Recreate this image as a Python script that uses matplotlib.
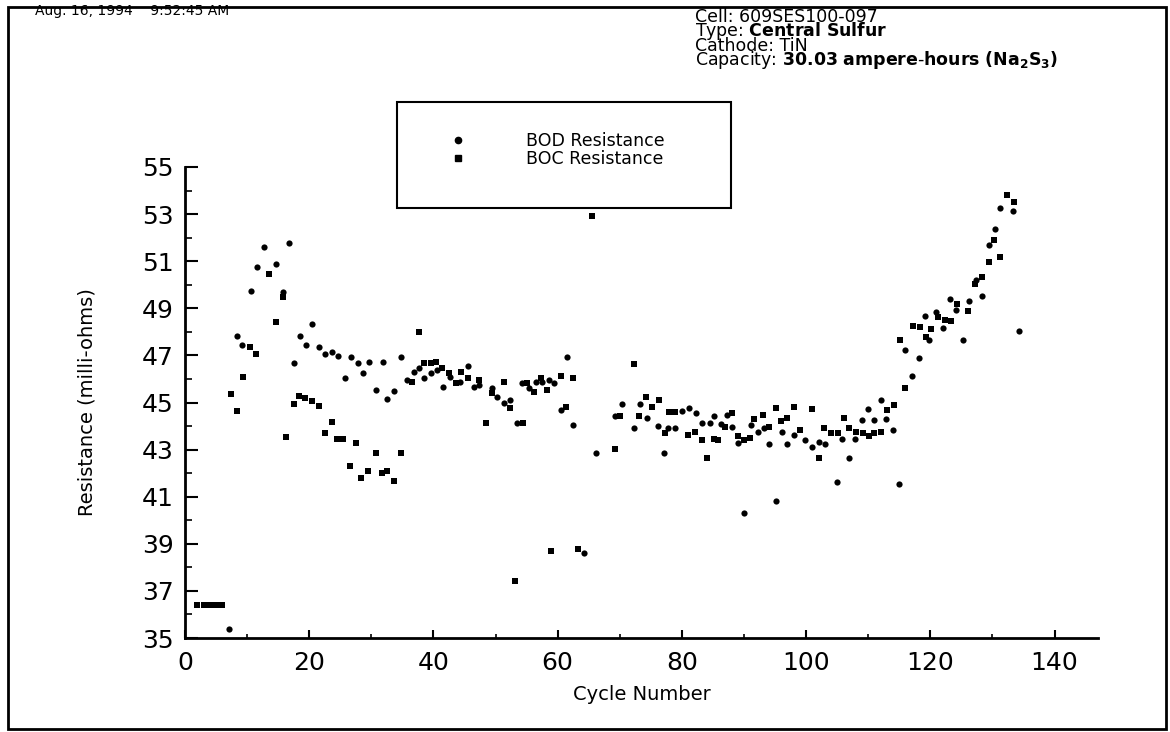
import matplotlib
matplotlib.use('Agg')
import matplotlib.pyplot as plt
from matplotlib.patches import Rectangle
from matplotlib.lines import Line2D
from matplotlib.ticker import MultipleLocator

# BOD resistance (milli-ohms) by cycle
bod_cycle = [7.1, 8.4, 9.2, 10.6, 11.6, 12.7, 14.7, 15.7, 16.7, 17.6, 18.5, 19.5,
             20.5, 21.6, 22.6, 23.7, 24.7, 25.7, 26.8, 27.8, 28.7, 29.7, 30.7,
             31.8, 32.6, 33.7, 34.8,
             35.8, 36.9, 37.7, 38.5, 39.6, 40.6, 41.5, 42.6, 44.2, 45.5, 46.5,
             47.4, 49.5, 50.3, 51.4, 52.4, 53.5, 54.3, 55.4, 56.5, 57.5, 58.6,
             59.4, 60.5, 61.5, 62.4, 64.3,
             66.1, 69.3, 70.3, 72.3, 73.3, 74.4, 76.2, 77.1, 77.8, 78.9, 80.1,
             81.2, 82.2, 83.3, 84.5, 85.2, 86.3, 87.3, 88.1, 89.1, 90.0, 91.1,
             92.2, 93.2, 94.0, 95.1, 96.2, 97.0, 98.1,
             99.9, 101.0, 102.1, 103.1, 104.9, 105.8, 106.9, 107.9, 109.0,
             109.9, 111.0, 112.0, 112.9, 114.0, 114.9, 116.0, 117.0, 118.1,
             119.2, 119.8, 120.9, 122.0, 123.2, 124.1, 125.2, 126.3, 127.3,
             128.3, 129.4, 130.4, 131.3, 133.3, 134.3]
bod_res = [35.4, 47.82, 47.44, 49.75, 50.77, 51.59, 50.87, 49.7, 51.76, 46.66,
           47.82, 47.44, 48.33, 47.34, 47.06, 47.16, 46.97, 46.05, 46.95, 46.66,
           46.27, 46.74, 45.53, 46.73, 45.15, 45.49, 46.95,
           45.96, 46.31, 46.45, 46.03, 46.24, 46.38, 45.67, 46.1, 45.88, 46.55,
           45.67, 45.75, 45.6, 45.25, 44.97, 45.1, 44.14, 45.84, 45.6, 45.88,
           45.88, 45.96, 45.84, 44.68, 46.92, 44.04, 38.6,
           42.84, 44.43, 44.92, 43.93, 44.92, 44.33, 44.02, 42.84, 43.9, 43.9,
           44.64, 44.75, 44.54, 44.14, 44.14, 44.43, 44.08, 44.47, 43.94, 43.27,
           40.3, 44.04, 43.76, 43.9, 43.23, 40.83, 43.76, 43.23, 43.62,
           43.41, 43.1, 43.34, 43.22, 41.64, 43.44, 42.63, 43.44, 44.26, 44.71,
           44.26, 45.1, 44.29, 43.83, 41.54, 47.23, 46.13, 46.88, 48.67, 47.65,
           48.85, 48.15, 49.38, 48.93, 47.65, 49.32, 50.2, 49.52, 51.69, 52.35,
           53.24, 53.13, 48.04]

# BOC resistance (milli-ohms) by cycle
boc_cycle = [2, 3, 4, 5, 6, 7.4, 8.4, 9.4, 10.4, 11.5, 13.6, 14.6, 15.8, 16.3,
             17.6, 18.4, 19.4, 20.5, 21.6, 22.5, 23.6, 24.5, 25.5, 26.5, 27.5,
             28.4, 29.5, 30.7, 31.7, 32.6, 33.7, 34.7,
             36.6, 37.7, 38.5, 39.6, 40.4, 41.4, 42.5, 43.7, 44.4, 45.5, 47.3,
             48.4, 49.5, 51.4, 52.4, 53.1, 54.4, 55.1, 56.2, 57.3, 58.3, 59.0,
             60.5, 61.3, 62.4, 63.2, 65.5,
             69.2, 70.1, 72.3, 73.1, 74.2, 75.2, 76.3, 77.3, 77.9, 78.9, 81.0,
             82.1, 83.2, 84.1, 85.1, 85.8, 87.0, 88.1, 89.1, 90.0, 90.9, 91.6,
             93.0, 94.0, 95.1, 95.9, 96.9, 98.1,
             99.0, 100.9, 102.0, 102.9, 104.0, 105.1, 106.1, 106.9, 108.0,
             109.1, 110.1, 111.0, 112.0, 113.1, 114.2, 115.1, 116.0, 117.2,
             118.3, 119.3, 120.1, 121.2, 122.3, 123.3, 124.3, 126.0, 127.2,
             128.3, 129.4, 130.3, 131.3, 132.3, 133.5]
boc_res = [36.4, 36.4, 36.4, 36.4, 36.4, 45.36, 44.65, 46.07, 47.37, 47.06,
           50.45, 48.4, 49.5, 43.55, 44.94, 45.28, 45.18, 45.08, 44.85, 43.69,
           44.17, 43.45, 43.45, 42.3, 43.27, 41.78, 42.1, 42.87, 41.99, 42.09,
           41.65, 42.87,
           45.88, 48.0, 46.66, 46.66, 46.73, 46.45, 46.24, 45.84, 46.31, 46.03,
           45.96, 44.14, 45.42, 45.88, 44.76, 37.43, 44.14, 45.84, 45.46, 46.03,
           45.53, 38.69, 46.13, 44.82, 46.03, 38.77, 52.9,
           43.03, 44.43, 46.62, 44.43, 45.25, 44.82, 45.1, 43.72, 44.61, 44.61,
           43.62, 43.76, 43.41, 42.63, 43.44, 43.41, 43.96, 44.57, 43.58, 43.41,
           43.48, 44.28, 44.47, 43.97, 44.75, 44.22, 44.33, 44.82,
           43.83, 44.72, 42.63, 43.9, 43.69, 43.69, 44.33, 43.9, 43.76, 43.69,
           43.58, 43.69, 43.76, 44.68, 44.9, 47.65, 45.6, 48.25, 48.19, 47.77,
           48.12, 48.65, 48.5, 48.44, 49.17, 48.87, 50.02, 50.34, 50.98, 51.9,
           51.16, 53.81, 53.5]

yticks = list(range(35, 56, 2))
xticks = list(range(0, 141, 20))

W, H = 1170, 732
fig = plt.figure(figsize=(W / 100, H / 100), dpi=100)
ax = fig.add_axes([185 / W, 1 - 638 / H, (1098 - 185) / W, (638 - 167) / H])

ax.scatter(bod_cycle, bod_res, s=20, marker='o', color='black', linewidths=0)
ax.scatter(boc_cycle, boc_res, s=18, marker='s', color='black', linewidths=0)

ax.set_xlim(0, 147)
ax.set_ylim(35, 55)
ax.set_xticks(xticks)
ax.set_yticks(yticks)
ax.xaxis.set_minor_locator(MultipleLocator(10))
ax.yaxis.set_minor_locator(MultipleLocator(1))
for s in ['top', 'right']:
    ax.spines[s].set_visible(False)
for s in ['left', 'bottom']:
    ax.spines[s].set_linewidth(2.0)
ax.tick_params(axis='y', which='major', direction='in', length=9, width=1.5,
               labelsize=18, pad=8)
ax.tick_params(axis='y', which='minor', direction='in', length=5, width=1.2)
ax.tick_params(axis='x', which='major', direction='in', length=6, width=1.5,
               labelsize=18, pad=9)
ax.tick_params(axis='x', which='minor', direction='in', length=3, width=1.2)

ax.set_xlabel('Cycle Number', fontsize=14)
ax.xaxis.set_label_coords(0.5, -0.1)
ax.set_ylabel('Resistance (milli-ohms)', fontsize=14)
ax.yaxis.set_label_coords(-0.097, 0.5)

# legend box
fig.patches.append(Rectangle((397 / W, 1 - 208 / H), 334 / W, 106 / H,
                             transform=fig.transFigure, fill=False,
                             edgecolor='black', linewidth=1.5))
handles = [Line2D([], [], marker='o', linestyle='none', color='black', markersize=4.5),
           Line2D([], [], marker='s', linestyle='none', color='black', markersize=4)]
fig.legend(handles, ['BOD Resistance', 'BOC Resistance'], frameon=False,
           loc='center left', bbox_to_anchor=(436 / W, 1 - 150 / H),
           fontsize=12.5, handlelength=1.5, handletextpad=3.2, labelspacing=0.0,
           borderpad=0)

# page frame
fig.patches.append(Rectangle((8 / W, 1 - 729 / H), 1158 / W, 722 / H,
                             transform=fig.transFigure, fill=False,
                             edgecolor='black', linewidth=2))

fig.text(35 / W, 1 - 11 / H, 'Aug. 16, 1994    9:52:45 AM', fontsize=10,
         va='center', ha='left')
info = ['Cell: 609SES100-097',
        r'Type: $\bf{Central\ Sulfur}$',
        'Cathode: TiN',
        r'Capacity: $\bf{30.03\ ampere}$-$\bf{hours\ (Na_2S_3)}$']
fig.text(695 / W, 1 - 8 / H, '\n'.join(info), fontsize=12.5, linespacing=0.64,
         va='top', ha='left')

fig.savefig('out.png', dpi=100)
